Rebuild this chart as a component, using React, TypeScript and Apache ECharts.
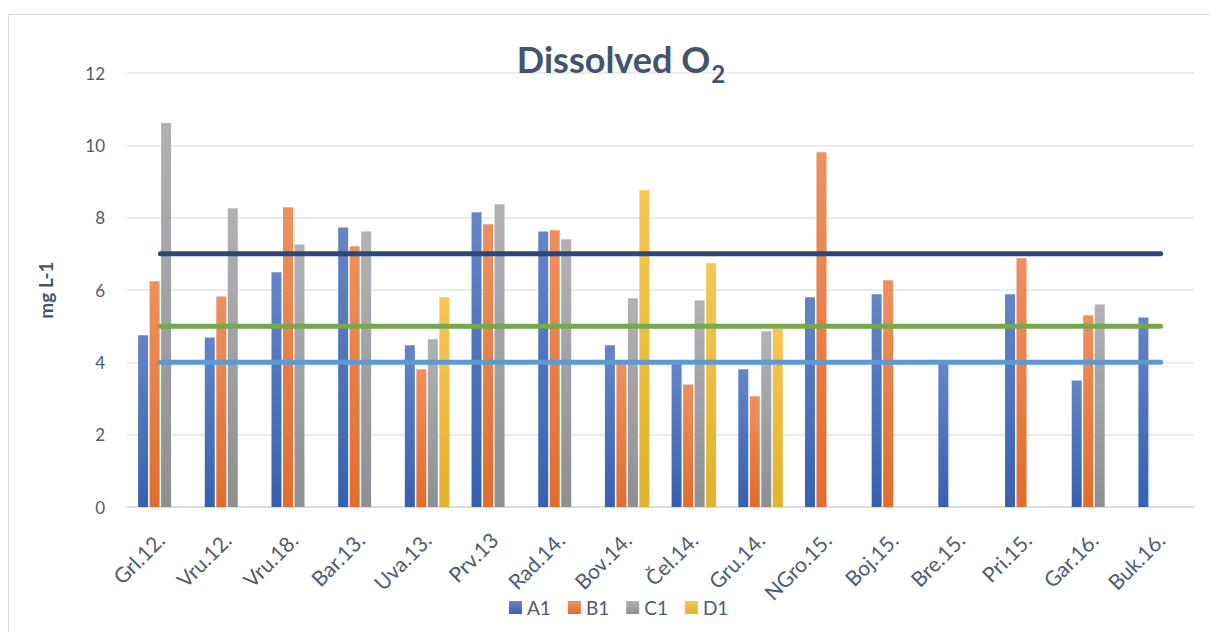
import React, { useEffect, useRef } from "react";
import * as echarts from "echarts";

const categories = ["Grl.12.", "Vru.12.", "Vru.18.", "Bar.13.", "Uva.13.", "Prv.13", "Rad.14.", "Bov.14.", "Čel.14.", "Gru.14.", "NGro.15.", "Boj.15.", "Bre.15.", "Pri.15.", "Gar.16.", "Buk.16."];
const a1 = [4.75, 4.69, 6.49, 7.73, 4.47, 8.15, 7.62, 4.47, 3.98, 3.81, 5.8, 5.88, 3.97, 5.88, 3.5, 5.24];
const b1 = [6.24, 5.82, 8.29, 7.21, 3.81, 7.82, 7.65, 3.95, 3.39, 3.06, 9.81, 6.27, null, 6.88, 5.3, null];
const c1 = [10.62, 8.26, 7.26, 7.62, 4.64, 8.37, 7.4, 5.77, 5.71, 4.86, null, null, null, null, 5.6, null];
const d1 = [null, null, null, null, 5.8, null, null, 8.76, 6.74, 4.92, null, null, null, null, null, null];
const limitHigh = 7;
const limitMid = 5;
const limitLow = 4;
const yTicks = [0, 2, 4, 6, 8, 10, 12];

const grad = (top: string, bottom: string) =>
  new echarts.graphic.LinearGradient(0, 0, 0, 1, [
    { offset: 0, color: top },
    { offset: 1, color: bottom },
  ]);

export default function App() {
  const ref = useRef<HTMLDivElement>(null);
  useEffect(() => {
    if (!ref.current) return;
    const chart = echarts.init(ref.current, null, { renderer: "svg" });
    const font = "Lato, 'Open Sans', sans-serif";
    const labelColor = "#4F5B6E";
    const barBase = { type: "bar" as const, barWidth: 10, barGap: "15%" };
    const lineBase = (v: number, color: string) => ({
      type: "line" as const,
      data: categories.map(() => v),
      symbol: "none",
      lineStyle: { width: 5, color, cap: "round" },
      z: 5,
      silent: true,
    });
    chart.setOption({
      animation: false,
      textStyle: { fontFamily: font },
      title: {
        text: "{main|Dissolved O}{sub|2}",
        left: 616,
        top: 36,
        textAlign: "center",
        textStyle: {
          fontFamily: font,
          fontSize: 36,
          fontWeight: "bold",
          color: "#44546A",
          rich: {
            main: { fontSize: 36, fontWeight: "bold", color: "#44546A", fontFamily: font, lineHeight: 44, verticalAlign: "top" },
            sub: { fontSize: 24, fontWeight: "bold", color: "#44546A", fontFamily: font, lineHeight: 44, verticalAlign: "top", padding: [20, 0, 0, 1] },
          },
        },
      },
      graphic: [
        { type: "rect", shape: { x: 8.5, y: 14.5, width: 1210, height: 640 }, style: { fill: "none", stroke: "#D9D9D9", lineWidth: 1 } },
      ],
      legend: {
        data: ["A1", "B1", "C1", "D1"],
        left: 504,
        top: 593,
        icon: "rect",
        itemWidth: 13,
        itemHeight: 13,
        itemGap: 17,
        textStyle: { fontSize: 19, color: labelColor, fontFamily: font },
      },
      grid: { left: 127, right: 16, top: 73, bottom: 125 },
      xAxis: {
        type: "category",
        data: categories,
        axisLine: { lineStyle: { color: "#D9D9D9", width: 1.5 } },
        axisTick: { show: false },
        axisLabel: { rotate: 45, fontSize: 21, color: labelColor, margin: 29, interval: 0, fontFamily: font },
      },
      yAxis: {
        type: "value",
        min: yTicks[0],
        max: yTicks[yTicks.length - 1],
        interval: 2,
        name: "mg L-1",
        nameLocation: "middle",
        nameRotate: 90,
        nameGap: 72,
        nameTextStyle: { fontSize: 19, fontWeight: "bold", color: "#44546A", fontFamily: font },
        axisLabel: { fontSize: 17, color: labelColor, margin: 22, fontFamily: font },
        splitLine: { lineStyle: { color: "#E3E6EA", width: 1.5 } },
        axisLine: { show: false },
        axisTick: { show: false },
      },
      series: [
        { ...barBase, name: "A1", data: a1, itemStyle: { color: grad("#6585C7", "#3661B0") } },
        { ...barBase, name: "B1", data: b1, itemStyle: { color: grad("#EE905F", "#E06D2D") } },
        { ...barBase, name: "C1", data: c1, itemStyle: { color: grad("#B1B2B5", "#8E8F93") } },
        { ...barBase, name: "D1", data: d1, itemStyle: { color: grad("#F7C654", "#E1B22C") } },
        { ...lineBase(limitHigh, "#2F4676"), name: "L7" },
        { ...lineBase(limitMid, "#77A74E"), name: "L5" },
        { ...lineBase(limitLow, "#5E9AD2"), name: "L4" },
      ],
    });
    return () => chart.dispose();
  }, []);
  return <div ref={ref} style={{ width: 1210, height: 632, position: "absolute", left: 0, top: 0 }} />;
}
